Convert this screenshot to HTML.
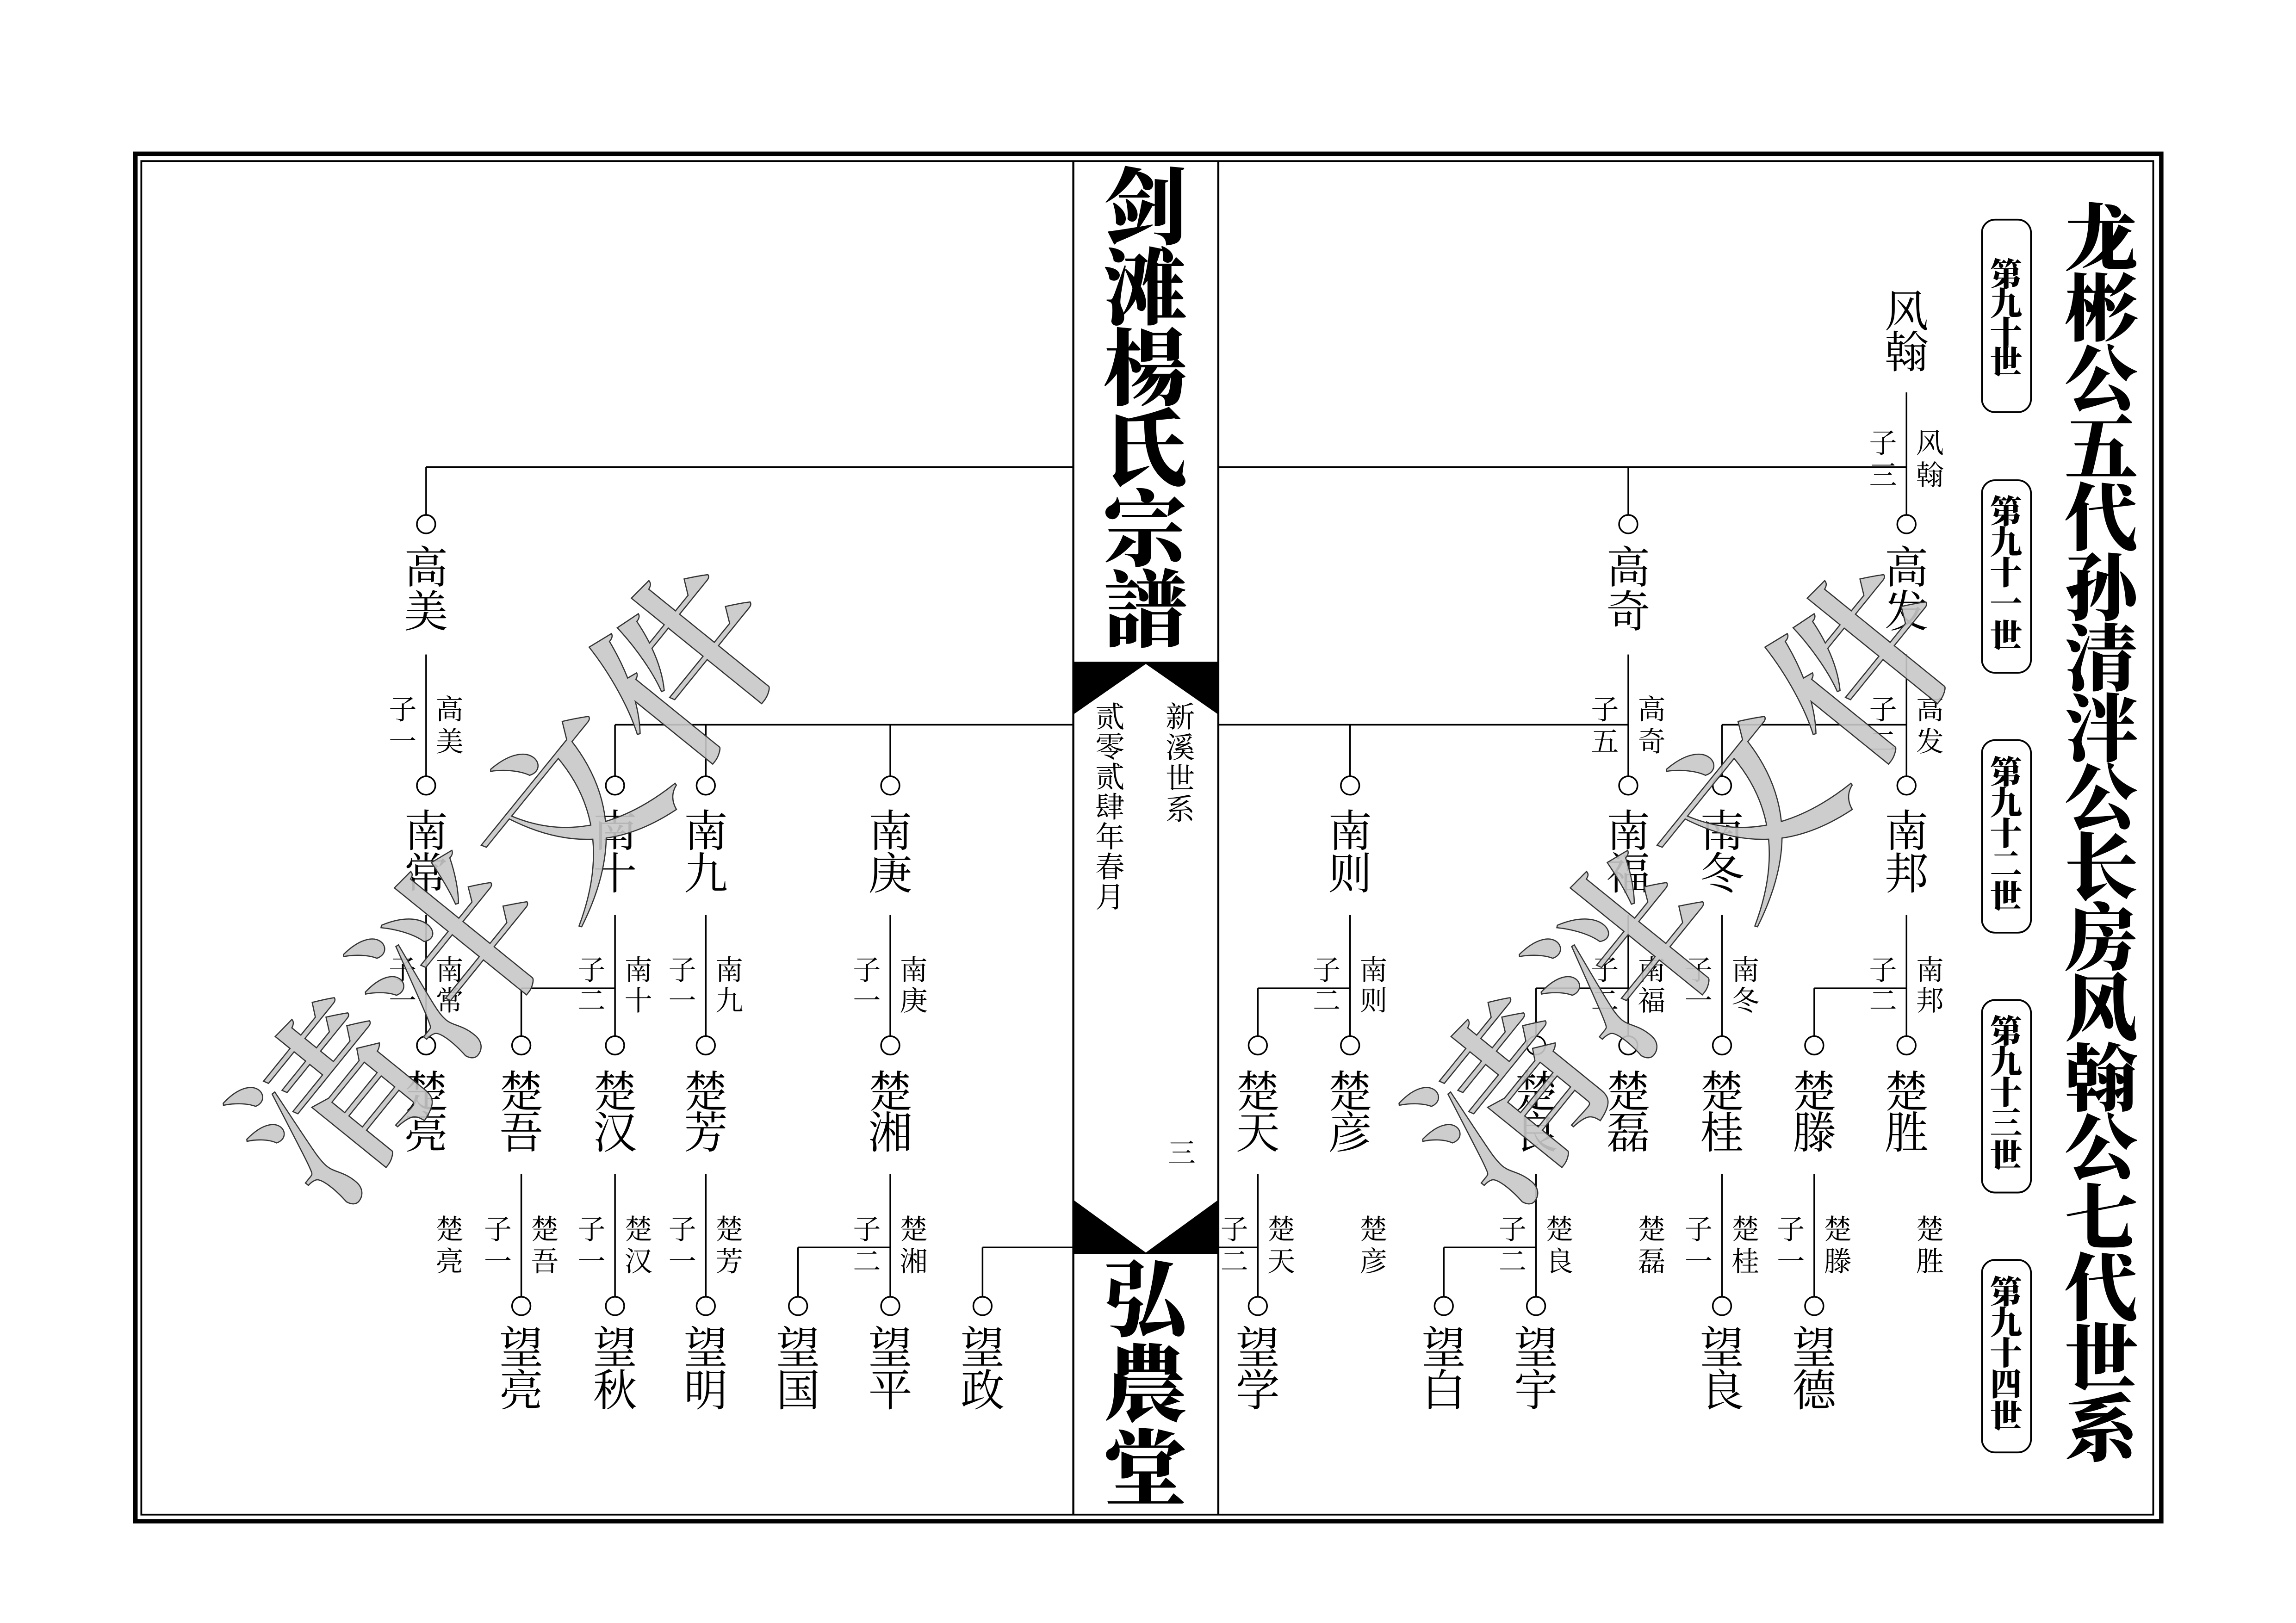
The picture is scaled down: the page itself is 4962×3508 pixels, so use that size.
<!DOCTYPE html>
<html><head><meta charset="utf-8"><style>
html,body{margin:0;padding:0;background:#fff;}
svg{display:block;}
text{font-family:"Liberation Serif","Noto Serif CJK SC",serif;text-anchor:middle;dominant-baseline:central;fill:#000;}
.n{font-size:30px;}
.l{font-size:19px;}
.t{font-size:57px;font-weight:900;}
.r{font-size:50px;font-weight:900;}
.g{font-size:22px;font-weight:900;}
.m{font-size:20px;}
line{stroke:#000;stroke-width:1.1;}
circle{fill:#fff;stroke:#000;stroke-width:1.1;}
.wm{font-size:125px;fill:#c8c8c8;stroke:#333;stroke-width:0.8;fill-opacity:0.9;font-weight:600;}
</style></head><body>
<svg width="4962" height="3508" viewBox="0 0 1568 1108.5" xmlns="http://www.w3.org/2000/svg">
<rect x="0" y="0" width="1568" height="1108.5" fill="#fff"/>
<rect x="92.5" y="105" width="1383.5" height="934" fill="none" stroke="#000" stroke-width="3"/>
<rect x="96.5" y="110" width="1374" height="924.5" fill="none" stroke="#000" stroke-width="1.2"/>
<line x1="733" y1="110" x2="733" y2="1034.5" style="stroke-width:1.4"/>
<line x1="832" y1="110" x2="832" y2="1034.5" style="stroke-width:1.4"/>
<polygon points="733,452 832,452 832,488 782.5,453.5 733,488" fill="#000"/>
<polygon points="733,819.5 782.5,855.5 832,819.5 832,856.5 733,856.5" fill="#000"/>
<text class="t" x="782" y="143">剑</text>
<text class="t" x="782" y="198">滩</text>
<text class="t" x="782" y="253">楊</text>
<text class="t" x="782" y="308">氏</text>
<text class="t" x="782" y="363">宗</text>
<text class="t" x="782" y="418">譜</text>
<text class="t" x="782" y="889">弘</text>
<text class="t" x="782" y="947">農</text>
<text class="t" x="782" y="1005">堂</text>
<text class="m" x="806" y="490">新</text>
<text class="m" x="806" y="511">溪</text>
<text class="m" x="806" y="532">世</text>
<text class="m" x="806" y="553">系</text>
<text class="m" x="758" y="490">贰</text>
<text class="m" x="758" y="510.5">零</text>
<text class="m" x="758" y="531">贰</text>
<text class="m" x="758" y="551.5">肆</text>
<text class="m" x="758" y="572">年</text>
<text class="m" x="758" y="592.5">春</text>
<text class="m" x="758" y="613">月</text>
<text class="l" x="807" y="788">三</text>
<text class="r" x="1435" y="164">龙</text>
<text class="r" x="1435" y="212">彬</text>
<text class="r" x="1435" y="260">公</text>
<text class="r" x="1435" y="307">五</text>
<text class="r" x="1435" y="355">代</text>
<text class="r" x="1435" y="403">孙</text>
<text class="r" x="1435" y="451">清</text>
<text class="r" x="1435" y="499">泮</text>
<text class="r" x="1435" y="546">公</text>
<text class="r" x="1435" y="594">长</text>
<text class="r" x="1435" y="642">房</text>
<text class="r" x="1435" y="690">风</text>
<text class="r" x="1435" y="738">翰</text>
<text class="r" x="1435" y="785">公</text>
<text class="r" x="1435" y="833">七</text>
<text class="r" x="1435" y="881">代</text>
<text class="r" x="1435" y="929">世</text>
<text class="r" x="1435" y="977">系</text>
<rect x="1353.5" y="150" width="33.5" height="131.5" rx="9" fill="#fff" stroke="#000" stroke-width="1.2"/>
<text class="g" x="1370" y="188">第</text><text class="g" x="1370" y="208">九</text><text class="g" x="1370" y="228">十</text><text class="g" x="1370" y="248">世</text>
<rect x="1353.5" y="328" width="33.5" height="131.5" rx="9" fill="#fff" stroke="#000" stroke-width="1.2"/>
<text class="g" x="1370" y="350">第</text><text class="g" x="1370" y="371">九</text><text class="g" x="1370" y="392">十</text><text class="g" x="1370" y="413">一</text><text class="g" x="1370" y="435">世</text>
<rect x="1353.5" y="505.5" width="33.5" height="131.5" rx="9" fill="#fff" stroke="#000" stroke-width="1.2"/>
<text class="g" x="1370" y="528">第</text><text class="g" x="1370" y="549">九</text><text class="g" x="1370" y="570">十</text><text class="g" x="1370" y="591">二</text><text class="g" x="1370" y="613">世</text>
<rect x="1353.5" y="683" width="33.5" height="131.5" rx="9" fill="#fff" stroke="#000" stroke-width="1.2"/>
<text class="g" x="1370" y="705">第</text><text class="g" x="1370" y="726">九</text><text class="g" x="1370" y="747">十</text><text class="g" x="1370" y="768">三</text><text class="g" x="1370" y="790">世</text>
<rect x="1353.5" y="860.5" width="33.5" height="131.5" rx="9" fill="#fff" stroke="#000" stroke-width="1.2"/>
<text class="g" x="1370" y="883">第</text><text class="g" x="1370" y="904">九</text><text class="g" x="1370" y="925">十</text><text class="g" x="1370" y="946">四</text><text class="g" x="1370" y="968">世</text>

<text class="n" x="1302" y="213">风</text><text class="n" x="1302" y="241">翰</text>
<line x1="1302" y1="268" x2="1302" y2="352"/>
<line x1="291" y1="319" x2="733" y2="319"/>
<line x1="832" y1="319" x2="1302" y2="319"/>
<line x1="291" y1="319" x2="291" y2="352"/>
<line x1="1112" y1="319" x2="1112" y2="352"/>
<text class="l" x="1286" y="303">子</text><text class="l" x="1286" y="325">三</text>
<text class="l" x="1318" y="303">风</text><text class="l" x="1318" y="325">翰</text>
<circle cx="291" cy="358" r="6.3"/><circle cx="1112" cy="358" r="6.3"/><circle cx="1302" cy="358" r="6.3"/>

<text class="n" x="291" y="388">高</text><text class="n" x="291" y="418">美</text>
<text class="n" x="1112" y="388">高</text><text class="n" x="1112" y="418">奇</text>
<text class="n" x="1302" y="388">高</text><text class="n" x="1302" y="418">发</text>
<line x1="291" y1="447" x2="291" y2="530"/>
<line x1="1112" y1="447" x2="1112" y2="530"/>
<line x1="1302" y1="447" x2="1302" y2="530"/>
<line x1="420" y1="495" x2="733" y2="495"/>
<line x1="832" y1="495" x2="1112" y2="495"/>
<line x1="1176" y1="495" x2="1302" y2="495"/>
<line x1="420" y1="495" x2="420" y2="530"/>
<line x1="482" y1="495" x2="482" y2="530"/>
<line x1="608" y1="495" x2="608" y2="530"/>
<line x1="922" y1="495" x2="922" y2="530"/>
<line x1="1176" y1="495" x2="1176" y2="530"/>
<text class="l" x="275" y="485">子</text><text class="l" x="275" y="507">一</text><text class="l" x="307" y="485">高</text><text class="l" x="307" y="507">美</text>
<text class="l" x="1096" y="485">子</text><text class="l" x="1096" y="507">五</text><text class="l" x="1128" y="485">高</text><text class="l" x="1128" y="507">奇</text>
<text class="l" x="1286" y="485">子</text><text class="l" x="1286" y="507">二</text><text class="l" x="1318" y="485">高</text><text class="l" x="1318" y="507">发</text>
<circle cx="291" cy="536.5" r="6.3"/><circle cx="420" cy="536.5" r="6.3"/><circle cx="482" cy="536.5" r="6.3"/><circle cx="608" cy="536.5" r="6.3"/>
<circle cx="922" cy="536.5" r="6.3"/><circle cx="1112" cy="536.5" r="6.3"/><circle cx="1176" cy="536.5" r="6.3"/><circle cx="1302" cy="536.5" r="6.3"/>

<text class="n" x="291" y="568">南</text><text class="n" x="291" y="597">常</text>
<text class="n" x="420" y="568">南</text><text class="n" x="420" y="597">十</text>
<text class="n" x="482" y="568">南</text><text class="n" x="482" y="597">九</text>
<text class="n" x="608" y="568">南</text><text class="n" x="608" y="597">庚</text>
<text class="n" x="922" y="568">南</text><text class="n" x="922" y="597">则</text>
<text class="n" x="1112" y="568">南</text><text class="n" x="1112" y="597">福</text>
<text class="n" x="1176" y="568">南</text><text class="n" x="1176" y="597">冬</text>
<text class="n" x="1302" y="568">南</text><text class="n" x="1302" y="597">邦</text>
<line x1="291" y1="625" x2="291" y2="708"/>
<line x1="420" y1="625" x2="420" y2="708"/>
<line x1="482" y1="625" x2="482" y2="708"/>
<line x1="608" y1="625" x2="608" y2="708"/>
<line x1="922" y1="625" x2="922" y2="708"/>
<line x1="1112" y1="625" x2="1112" y2="708"/>
<line x1="1176" y1="625" x2="1176" y2="708"/>
<line x1="1302" y1="625" x2="1302" y2="708"/>
<line x1="356" y1="675" x2="420" y2="675"/>
<line x1="859" y1="675" x2="922" y2="675"/>
<line x1="1049" y1="675" x2="1112" y2="675"/>
<line x1="1239" y1="675" x2="1302" y2="675"/>
<line x1="356" y1="675" x2="356" y2="708"/>
<line x1="859" y1="675" x2="859" y2="708"/>
<line x1="1049" y1="675" x2="1049" y2="708"/>
<line x1="1239" y1="675" x2="1239" y2="708"/>
<text class="l" x="275" y="663">子</text><text class="l" x="275" y="684">一</text><text class="l" x="307" y="663">南</text><text class="l" x="307" y="684">常</text>
<text class="l" x="404" y="663">子</text><text class="l" x="404" y="684">二</text><text class="l" x="436" y="663">南</text><text class="l" x="436" y="684">十</text>
<text class="l" x="466" y="663">子</text><text class="l" x="466" y="684">一</text><text class="l" x="498" y="663">南</text><text class="l" x="498" y="684">九</text>
<text class="l" x="592" y="663">子</text><text class="l" x="592" y="684">一</text><text class="l" x="624" y="663">南</text><text class="l" x="624" y="684">庚</text>
<text class="l" x="906" y="663">子</text><text class="l" x="906" y="684">二</text><text class="l" x="938" y="663">南</text><text class="l" x="938" y="684">则</text>
<text class="l" x="1096" y="663">子</text><text class="l" x="1096" y="684">二</text><text class="l" x="1128" y="663">南</text><text class="l" x="1128" y="684">福</text>
<text class="l" x="1160" y="663">子</text><text class="l" x="1160" y="684">一</text><text class="l" x="1192" y="663">南</text><text class="l" x="1192" y="684">冬</text>
<text class="l" x="1286" y="663">子</text><text class="l" x="1286" y="684">二</text><text class="l" x="1318" y="663">南</text><text class="l" x="1318" y="684">邦</text>
<circle cx="291" cy="714" r="6.3"/><circle cx="356" cy="714" r="6.3"/><circle cx="420" cy="714" r="6.3"/><circle cx="482" cy="714" r="6.3"/>
<circle cx="608" cy="714" r="6.3"/><circle cx="859" cy="714" r="6.3"/><circle cx="922" cy="714" r="6.3"/><circle cx="1049" cy="714" r="6.3"/>
<circle cx="1112" cy="714" r="6.3"/><circle cx="1176" cy="714" r="6.3"/><circle cx="1239" cy="714" r="6.3"/><circle cx="1302" cy="714" r="6.3"/>

<text class="n" x="291" y="746">楚</text><text class="n" x="291" y="774">亮</text>
<text class="n" x="356" y="746">楚</text><text class="n" x="356" y="774">吾</text>
<text class="n" x="420" y="746">楚</text><text class="n" x="420" y="774">汉</text>
<text class="n" x="482" y="746">楚</text><text class="n" x="482" y="774">芳</text>
<text class="n" x="608" y="746">楚</text><text class="n" x="608" y="774">湘</text>
<text class="n" x="859" y="746">楚</text><text class="n" x="859" y="774">天</text>
<text class="n" x="922" y="746">楚</text><text class="n" x="922" y="774">彦</text>
<text class="n" x="1049" y="746">楚</text><text class="n" x="1049" y="774">良</text>
<text class="n" x="1112" y="746">楚</text><text class="n" x="1112" y="774">磊</text>
<text class="n" x="1176" y="746">楚</text><text class="n" x="1176" y="774">桂</text>
<text class="n" x="1239" y="746">楚</text><text class="n" x="1239" y="774">滕</text>
<text class="n" x="1302" y="746">楚</text><text class="n" x="1302" y="774">胜</text>
<line x1="356" y1="802" x2="356" y2="886"/>
<line x1="420" y1="802" x2="420" y2="886"/>
<line x1="482" y1="802" x2="482" y2="886"/>
<line x1="608" y1="802" x2="608" y2="886"/>
<line x1="859" y1="802" x2="859" y2="886"/>
<line x1="1049" y1="802" x2="1049" y2="886"/>
<line x1="1176" y1="802" x2="1176" y2="886"/>
<line x1="1239" y1="802" x2="1239" y2="886"/>
<line x1="545" y1="852" x2="608" y2="852"/>
<line x1="671" y1="852" x2="733" y2="852"/>
<line x1="832" y1="852" x2="859" y2="852"/>
<line x1="986" y1="852" x2="1049" y2="852"/>
<line x1="545" y1="852" x2="545" y2="886"/>
<line x1="671" y1="852" x2="671" y2="886"/>
<line x1="986" y1="852" x2="986" y2="886"/>
<text class="l" x="307" y="840">楚</text><text class="l" x="307" y="862">亮</text>
<text class="l" x="340" y="840">子</text><text class="l" x="340" y="862">一</text><text class="l" x="372" y="840">楚</text><text class="l" x="372" y="862">吾</text>
<text class="l" x="404" y="840">子</text><text class="l" x="404" y="862">一</text><text class="l" x="436" y="840">楚</text><text class="l" x="436" y="862">汉</text>
<text class="l" x="466" y="840">子</text><text class="l" x="466" y="862">一</text><text class="l" x="498" y="840">楚</text><text class="l" x="498" y="862">芳</text>
<text class="l" x="592" y="840">子</text><text class="l" x="592" y="862">二</text><text class="l" x="624" y="840">楚</text><text class="l" x="624" y="862">湘</text>
<text class="l" x="843" y="840">子</text><text class="l" x="843" y="862">二</text><text class="l" x="875" y="840">楚</text><text class="l" x="875" y="862">天</text>
<text class="l" x="938" y="840">楚</text><text class="l" x="938" y="862">彦</text>
<text class="l" x="1033" y="840">子</text><text class="l" x="1033" y="862">二</text><text class="l" x="1065" y="840">楚</text><text class="l" x="1065" y="862">良</text>
<text class="l" x="1128" y="840">楚</text><text class="l" x="1128" y="862">磊</text>
<text class="l" x="1160" y="840">子</text><text class="l" x="1160" y="862">一</text><text class="l" x="1192" y="840">楚</text><text class="l" x="1192" y="862">桂</text>
<text class="l" x="1223" y="840">子</text><text class="l" x="1223" y="862">一</text><text class="l" x="1255" y="840">楚</text><text class="l" x="1255" y="862">滕</text>
<text class="l" x="1318" y="840">楚</text><text class="l" x="1318" y="862">胜</text>
<circle cx="356" cy="892" r="6.3"/><circle cx="420" cy="892" r="6.3"/><circle cx="482" cy="892" r="6.3"/><circle cx="545" cy="892" r="6.3"/>
<circle cx="608" cy="892" r="6.3"/><circle cx="671" cy="892" r="6.3"/><circle cx="859" cy="892" r="6.3"/><circle cx="986" cy="892" r="6.3"/>
<circle cx="1049" cy="892" r="6.3"/><circle cx="1176" cy="892" r="6.3"/><circle cx="1239" cy="892" r="6.3"/>

<text class="n" x="356" y="921">望</text><text class="n" x="356" y="950">亮</text>
<text class="n" x="420" y="921">望</text><text class="n" x="420" y="950">秋</text>
<text class="n" x="482" y="921">望</text><text class="n" x="482" y="950">明</text>
<text class="n" x="545" y="921">望</text><text class="n" x="545" y="950">国</text>
<text class="n" x="608" y="921">望</text><text class="n" x="608" y="950">平</text>
<text class="n" x="671" y="921">望</text><text class="n" x="671" y="950">政</text>
<text class="n" x="859" y="921">望</text><text class="n" x="859" y="950">学</text>
<text class="n" x="986" y="921">望</text><text class="n" x="986" y="950">白</text>
<text class="n" x="1049" y="921">望</text><text class="n" x="1049" y="950">宇</text>
<text class="n" x="1176" y="921">望</text><text class="n" x="1176" y="950">良</text>
<text class="n" x="1239" y="921">望</text><text class="n" x="1239" y="950">德</text>

<g transform="translate(352,605) rotate(-51)">
<text class="wm" x="-192" y="0">清</text><text class="wm" x="-64" y="0">泮</text><text class="wm" x="64" y="0">文</text><text class="wm" x="192" y="0">件</text>
</g>
<g transform="translate(1155,605) rotate(-51)">
<text class="wm" x="-192" y="0">清</text><text class="wm" x="-64" y="0">泮</text><text class="wm" x="64" y="0">文</text><text class="wm" x="192" y="0">件</text>
</g>
</svg>
</body></html>
